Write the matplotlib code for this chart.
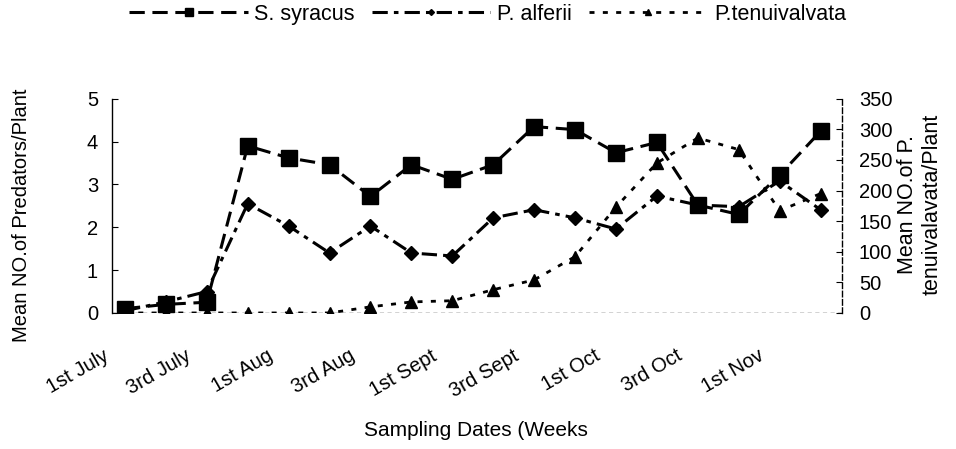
import numpy as np
import matplotlib.pyplot as plt
from matplotlib.lines import Line2D

plt.rcParams['font.family'] = ['Liberation Sans', 'DejaVu Sans']

weeks = np.arange(18)
syracus = [0.1, 0.2, 0.25, 3.9, 3.62, 3.46, 2.72, 3.46, 3.12, 3.46, 4.35, 4.28, 3.74, 3.98, 2.52, 2.3, 3.22, 4.24]
alferii = [0.05, 0.26, 0.5, 2.55, 2.03, 1.4, 2.03, 1.4, 1.33, 2.22, 2.41, 2.22, 1.96, 2.73, 2.52, 2.48, 3.08, 2.41]
tenui = [0, 0, 0, 0, 0, 0, 10, 18, 20, 38, 54, 92, 173, 245, 286, 267, 167, 195]
tick_labels = ['1st July', '3rd July', '1st Aug', '3rd Aug', '1st Sept',
               '3rd Sept', '1st Oct', '3rd Oct', '1st Nov']

fig = plt.figure(figsize=(9.56, 4.49), dpi=100)
ax = fig.add_axes([0.117, 0.303, 0.764, 0.477])
ax2 = ax.twinx()

ls_s = (0, (5, 2.5))
ls_a = (0, (5, 2, 1.5, 2))
ls_t = (0, (1.8, 3))

ax.plot(weeks, syracus, color='black', lw=2.2, ls=ls_s, marker='s', ms=11.5, zorder=3)
ax.plot(weeks, alferii, color='black', lw=2.2, ls=ls_a, marker='D', ms=7, zorder=3)
ax2.plot(weeks, tenui, color='black', lw=2.0, ls=ls_t, marker='^', ms=8, zorder=3)

ax.set_xlim(-0.32, 17.53)
ax.set_ylim(0, 5)
ax2.set_ylim(0, 350)
ax.set_yticks(range(6))
ax2.set_yticks(range(0, 351, 50))

ax.set_xticks(np.arange(len(tick_labels)) * 2 - 0.3)
ax.set_xticklabels(tick_labels, rotation=30, ha='right', va='top', fontsize=14.5)
ax.tick_params(axis='x', length=0, pad=24)
ax.tick_params(axis='y', direction='in', length=4, labelsize=14.5, pad=10)
ax2.tick_params(axis='y', direction='in', length=4, labelsize=14.5, pad=12)

for a in (ax, ax2):
    a.spines['top'].set_visible(False)
    a.spines['bottom'].set_visible(False)
ax2.spines['left'].set_visible(False)
ax.spines['right'].set_visible(False)
ax.spines['left'].set_linewidth(1.0)
ax2.spines['right'].set_linewidth(1.0)
ax2.spines['right'].set_linestyle((0, (4, 2)))
ax.axhline(0, color='#222222', lw=1.0, ls=(0, (3, 2.5)), zorder=1)

fig.text(0.498, 0.042, 'Sampling Dates (Weeks', ha='center', va='center', fontsize=15)
fig.text(0.022, 0.52, 'Mean NO.of Predators/Plant', rotation=90, ha='center', va='center', fontsize=14.5)
fig.text(0.962, 0.545, 'Mean NO.of P.\ntenuivalavata/Plant', rotation=90, ha='center', va='center',
         fontsize=15.5, multialignment='center', linespacing=1.25)

handles = [
    Line2D([], [], color='black', lw=2.2, ls=ls_s, marker='s', ms=6),
    Line2D([], [], color='black', lw=2.2, ls=ls_a, marker='D', ms=3),
    Line2D([], [], color='black', lw=2.0, ls=ls_t, marker='^', ms=4),
]
fig.legend(handles, ['S. syracus', 'P. alferii', 'P.tenuivalvata'], loc='center',
           bbox_to_anchor=(0.51, 0.968), ncol=3, frameon=False, fontsize=15.5,
           handlelength=5.5, handletextpad=0.3, columnspacing=0.8)

fig.savefig('out.png', dpi=100)
